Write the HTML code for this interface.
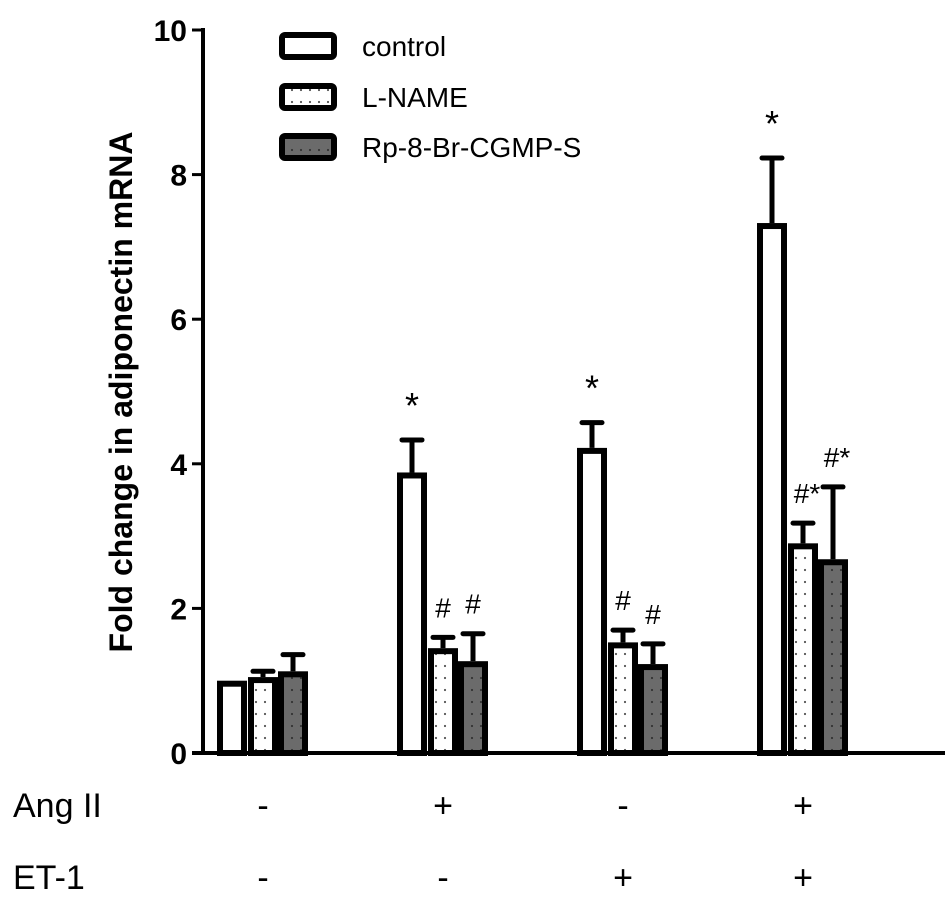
<!DOCTYPE html>
<html><head><meta charset="utf-8"><style>
body{margin:0;background:#fff;}
svg text{font-family:"Liberation Sans",Arial,sans-serif;}
</style></head><body>
<svg width="945" height="908" viewBox="0 0 945 908" id="chart">
<defs>
<pattern id="dots" width="9" height="12" patternUnits="userSpaceOnUse"><rect width="9" height="12" fill="#fff"/><circle cx="4" cy="6" r="1.1" fill="#555"/></pattern>
<pattern id="dotsDark" width="9" height="12" patternUnits="userSpaceOnUse"><rect width="9" height="12" fill="#6b6b6b"/><circle cx="4" cy="6" r="1.1" fill="#333"/></pattern>
</defs>
<g id="plot"></g>
<text x="0" y="0" transform="translate(132,392) rotate(-90)" text-anchor="middle" font-size="32" font-weight="bold">Fold change in adiponectin mRNA</text>
<text x="13" y="817" font-size="34">Ang II</text>
<text x="13" y="889" font-size="34">ET-1</text>
</svg>
<script>
const categories=["g1","g2","g3","g4"];
const seriesNames=["control","L-NAME","Rp-8-Br-CGMP-S"];
const controlVals=[1.0,3.88,4.22,7.33];
const lnameVals=[1.05,1.45,1.53,2.9];
const rpVals=[1.13,1.27,1.23,2.68];
const controlErr=[0,0.45,0.35,0.9];
const lnameErr=[0.08,0.15,0.17,0.28];
const rpErr=[0.23,0.38,0.28,1.0];
const yTicks=[0,2,4,6,8,10];
const angII=["-","+","-","+"];
const et1=["-","-","+","+"];
const controlMarks=["","*","*","*"];
const lnameMarks=["","#","#","#*"];
const rpMarks=["","#","#","#*"];

const NS="http://www.w3.org/2000/svg";
const g=document.getElementById('plot');
const y=v=>753-v*72.3;
const groupX=i=>217+i*180;
const barW=30;
function el(t,a,p){const e=document.createElementNS(NS,t);for(const k in a)e.setAttribute(k,a[k]);(p||g).appendChild(e);return e;}
let ax=el('line',{x1:203,y1:y(10)-2,x2:203,y2:755,stroke:'#000','stroke-width':4});


let bx=el('line',{x1:192,y1:753,x2:945,y2:753,stroke:'#000','stroke-width':4});


yTicks.forEach(t=>{
  let l=el('line',{x1:192,y1:y(t),x2:203,y2:y(t),stroke:'#000','stroke-width':3});
  
  
  let tx=el('text',{x:187,y:y(t)+11,'text-anchor':'end','font-size':30,'font-weight':'bold'});
  tx.textContent=t;
  
  
});
const fills=['#fff','url(#dots)','url(#dotsDark)'];
const vals=[controlVals,lnameVals,rpVals];
const errs=[controlErr,lnameErr,rpErr];
const marks=[controlMarks,lnameMarks,rpMarks];
categories.forEach((c,i)=>{
  for(let s=0;s<3;s++){
    const x=groupX(i)+s*barW+(s>0?1:0);
    const v=vals[s][i],e=errs[s][i];
    const cx=x+barW/2;
    if(e>0){
      let eb=el('line',{x1:cx,y1:y(v),x2:cx,y2:y(v+e),stroke:'#000','stroke-width':5});
      
      
      let cap=el('line',{x1:cx-10,y1:y(v+e),x2:cx+10,y2:y(v+e),stroke:'#000','stroke-width':5,'stroke-linecap':'round'});
      
      
    }
    let r=el('rect',{x:x+3,y:y(v)+3,width:barW-6,height:753-y(v)-3,fill:fills[s],stroke:'#000','stroke-width':6});
    
    
    const m=marks[s][i];
    if(m){
      const star=m==="*";
      let t=el('text',{x:cx+(m.length>1?4:0),y:y(v+e)-(star?22:20),'text-anchor':'middle','font-size':star?36:28});
      t.textContent=m;
      
      
    }
  }
  const gc=groupX(i)+46;
  let a=el('text',{x:gc,y:817,'text-anchor':'middle','font-size':34});
  a.textContent=angII[i];
  
  
  let b=el('text',{x:gc,y:889,'text-anchor':'middle','font-size':34});
  b.textContent=et1[i];
  
  
});
const legendY=[46,97,147];
seriesNames.forEach((n,s)=>{
  let r=el('rect',{x:282,y:legendY[s]-11,width:52,height:22,rx:3,fill:fills[s],stroke:'#000','stroke-width':6});
  
  
  let t=el('text',{x:362,y:legendY[s]+10,'font-size':28});
  t.textContent=n;
  
  
});
</script>
</body></html>
